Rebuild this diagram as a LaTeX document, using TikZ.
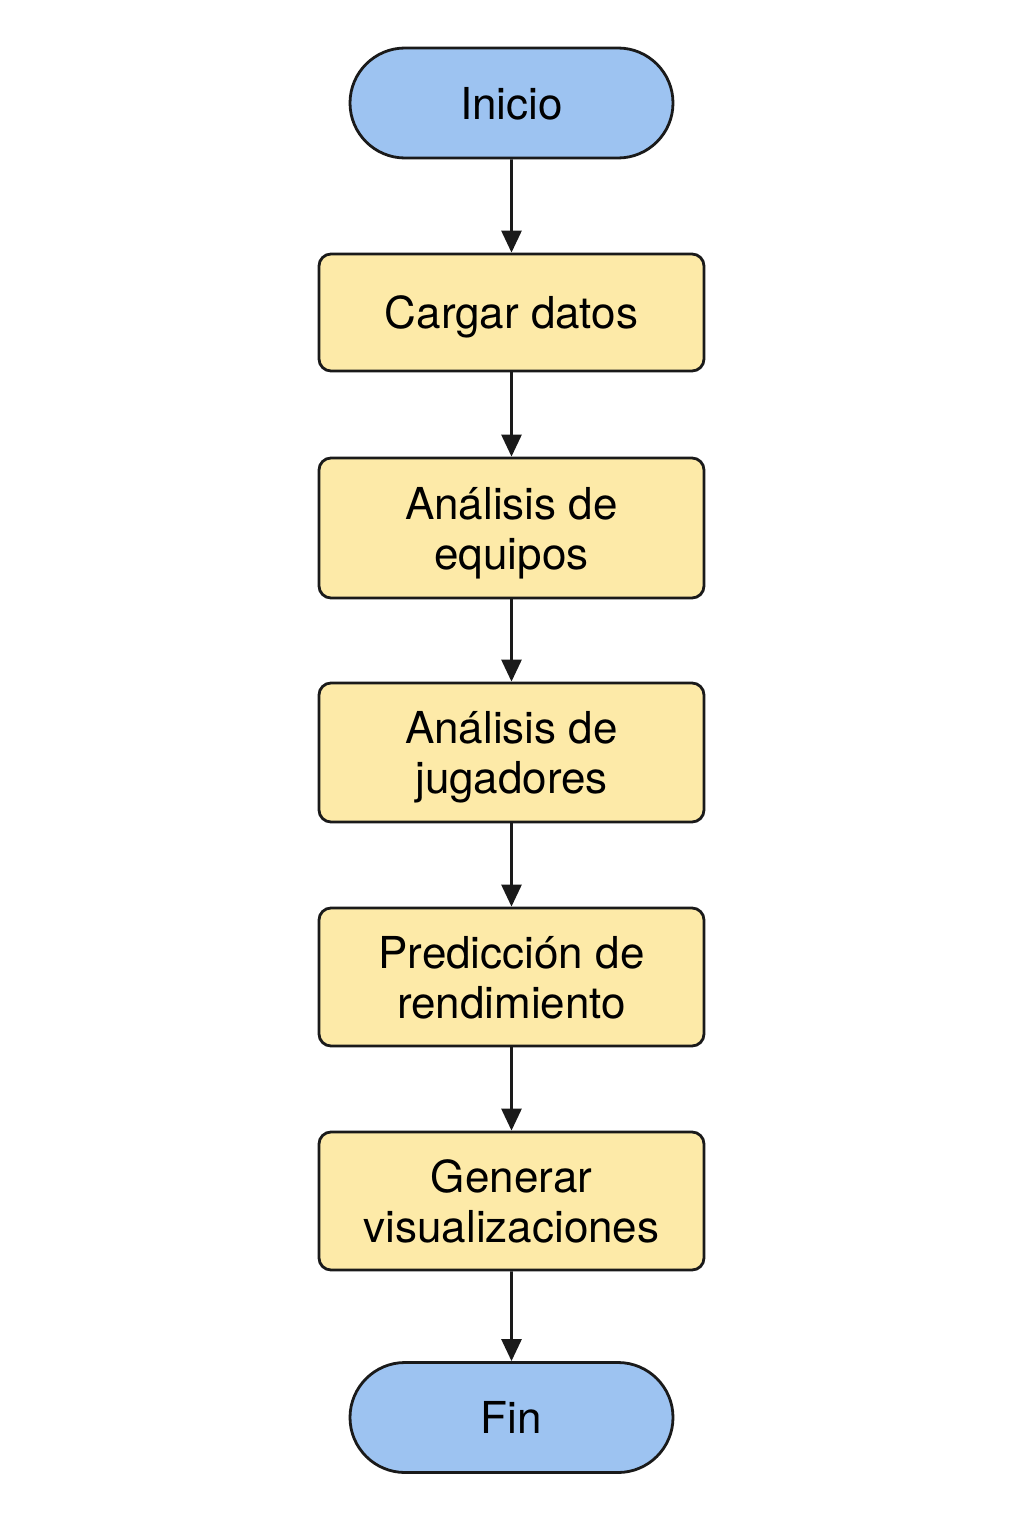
\documentclass[tikz,border=0pt]{standalone}
\usepackage{fontspec}
\setmainfont{TeX Gyre Heros}
\usetikzlibrary{arrows.meta,shapes.misc}
\definecolor{termblue}{HTML}{9DC3F1}
\definecolor{procyellow}{HTML}{FDEAA8}
\definecolor{edgeblack}{HTML}{1A1A1A}
\begin{document}
\begin{tikzpicture}[x=1pt,y=1pt,
  term/.style={draw=edgeblack, line width=2.8pt, fill=termblue, rounded rectangle,
    minimum width=323pt, minimum height=110pt, inner sep=0pt, text depth=0pt, font=\fontsize{44}{50}\selectfont},
  proc/.style={draw=edgeblack, line width=2.8pt, fill=procyellow, rounded corners=12pt,
    minimum width=385pt, inner sep=0pt, text depth=0pt, align=center, font=\fontsize{44}{50}\selectfont},
  flow/.style={draw=edgeblack, line width=2.8pt, -{Triangle[length=22pt,width=20pt]}}]
\useasboundingbox (0,0) rectangle (1024,-1536);
\fill[white] (0,0) rectangle (1024,-1536);
\node[term] (start) at (511.5,-103) {Inicio};
\node[proc, minimum height=117pt] (load) at (511.5,-312.5) {Cargar datos};
\node[proc, minimum height=140pt] (teams) at (511.5,-528) {Análisis de\\equipos};
\node[proc, minimum height=139pt] (players) at (511.5,-752.5) {Análisis de\\jugadores};
\node[proc, minimum height=138pt] (pred) at (511.5,-977) {Predicción de\\rendimiento};
\node[proc, minimum height=138pt] (viz) at (511.5,-1201) {Generar\\visualizaciones};
\node[term] (end) at (511.5,-1417.5) {Fin};
\draw[flow] (start) -- (load);
\draw[flow] (load) -- (teams);
\draw[flow] (teams) -- (players);
\draw[flow] (players) -- (pred);
\draw[flow] (pred) -- (viz);
\draw[flow] (viz) -- (end);
\end{tikzpicture}
\end{document}
